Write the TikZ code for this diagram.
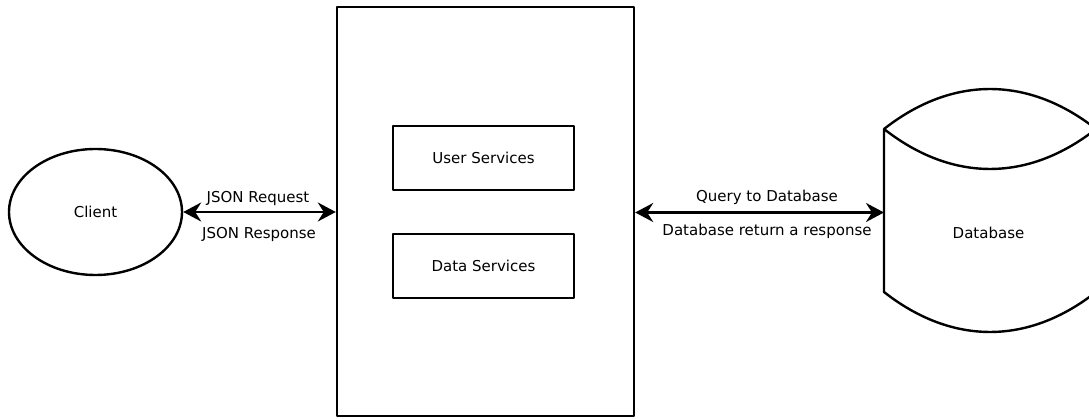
\documentclass[tikz,border=0pt]{standalone}
\usepackage{fontspec}
\setmainfont{DejaVu Sans}
\usetikzlibrary{arrows.meta,shapes.geometric}
\tikzset{
	srvbox/.style={draw, minimum width=181pt, minimum height=64pt, inner sep=0pt},
	flowlabel/.style={anchor=base, inner sep=0pt}
}
\begin{document}
\begin{tikzpicture}[>={Stealth[length=18pt,width=19pt,inset=6pt]}, line cap=round, line join=round, x=1pt, y=-1pt, line width=2.4pt, font=\fontsize{15}{18}\selectfont]
		\useasboundingbox (0,0) rectangle (1089,419);
		\node[draw, ellipse, minimum width=173pt, minimum height=126pt, inner sep=0pt] (client) at (95.5,212) {Client};
		\node[draw, minimum width=297pt, minimum height=409pt] (server) at (485.5,211.5) {};
		\node[srvbox] (user) at (483.5,158) {User Services};
		\node[srvbox] (data) at (483.5,266) {Data Services};
		% database drum, its right side runs off the page
		\draw (884,129) .. controls (952,75.7) and (1028,75.7) .. (1096,129)
			.. controls (1028,182.3) and (952,182.3) .. (884,129) -- (884,292)
			.. controls (952,345.3) and (1028,345.3) .. (1096,292);
		\coordinate (db) at (884,212.5);
		\node (dbname) at (988.5,232.5) {Database};
		\draw [<->] (client.east) -- (client.east -| server.west);
		\draw [<->] (server.east |- db) -- (db);
		\node[flowlabel] (req) at (258,203) {JSON Request};
		\node[flowlabel] (resp) at (259,239) {JSON Response};
		\node[flowlabel] (query) at (767,202) {Query to Database};
		\node[flowlabel] (reply) at (767,236) {Database return a response};
		\end{tikzpicture}
\end{document}
